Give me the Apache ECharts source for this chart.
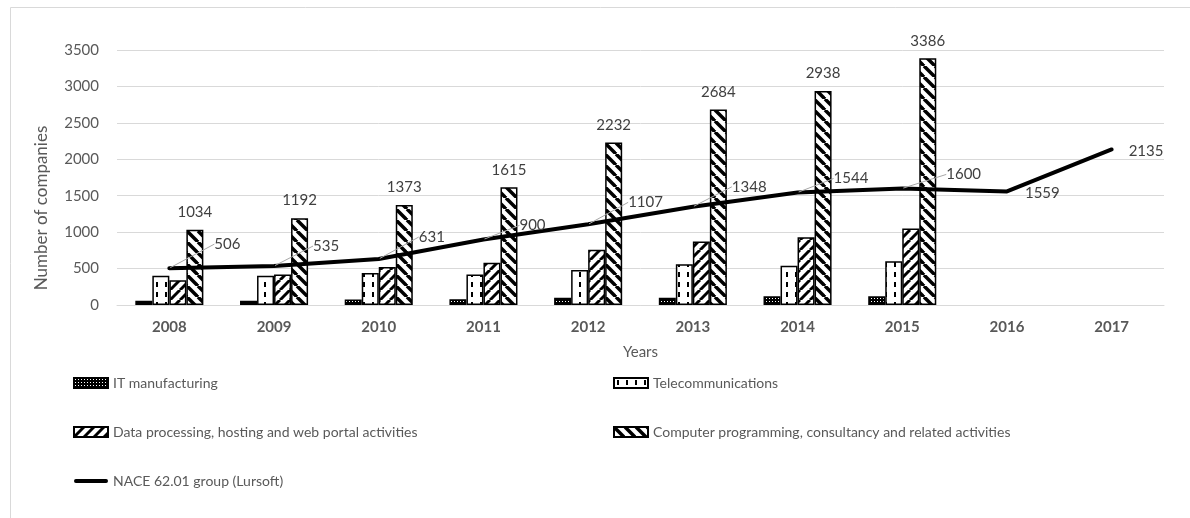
<!DOCTYPE html>
<html>
<head>
<meta charset="utf-8">
<title>Number of companies by year</title>
<script src="https://cdn.jsdelivr.net/npm/echarts@6/dist/echarts.min.js"></script>
<style>
  html, body { margin: 0; padding: 0; background: #fff; }
  #chart { width: 1190px; height: 518px; }
</style>
</head>
<body>
<div id="chart"></div>
<script>
// values
const years = ["2008", "2009", "2010", "2011", "2012", "2013", "2014", "2015", "2016", "2017"];
const itManufacturing = [60, 60, 75, 80, 100, 100, 120, 120, null, null];
const telecommunications = [400, 400, 440, 420, 480, 560, 540, 600, null, null];
const dataProcessing = [340, 420, 520, 580, 760, 870, 930, 1050, null, null];
const computerProgramming = [1034, 1192, 1373, 1615, 2232, 2684, 2938, 3386, null, null];
const naceGroup = [506, 535, 631, 900, 1107, 1348, 1544, 1600, 1559, 2135];

// where the line labels were dragged to (dx, dy from the default spot)
const lineLabelShift = [
  [39, -24], [33, -20], [34, -22], [30, -14], [34, -22],
  [33, -20], [30, -14], [38, -14], [12, 2], [11, 2],
];

const FONT = "Lato";

function makePattern(w, h, draw) {
  const c = document.createElement("canvas");
  c.width = w;
  c.height = h;
  const ctx = c.getContext("2d");
  draw(ctx, w, h);
  return { image: c, repeat: "repeat" };
}

// dark grid with white dots
const dotPattern = makePattern(3, 3, (ctx, w, h) => {
  ctx.fillStyle = "#000";
  ctx.fillRect(0, 0, w, h);
  ctx.fillStyle = "#fff";
  ctx.fillRect(1, 1, 1, 1);
});

// white with vertical dashes
const dashPattern = makePattern(9, 10, (ctx, w, h) => {
  ctx.fillStyle = "#fff";
  ctx.fillRect(0, 0, w, h);
  ctx.fillStyle = "#000";
  ctx.fillRect(3, 2, 2, 5);
});

// "/" stripes
const upStripe = makePattern(10, 10, (ctx, w, h) => {
  ctx.fillStyle = "#fff";
  ctx.fillRect(0, 0, w, h);
  ctx.strokeStyle = "#000";
  ctx.lineWidth = 3;
  for (let k = -1; k <= 1; k++) {
    ctx.beginPath();
    ctx.moveTo(k * w, h);
    ctx.lineTo(k * w + w, 0);
    ctx.stroke();
  }
});

// "\" stripes
const downStripe = makePattern(11, 11, (ctx, w, h) => {
  ctx.fillStyle = "#fff";
  ctx.fillRect(0, 0, w, h);
  ctx.strokeStyle = "#000";
  ctx.lineWidth = 3.5;
  for (let k = -1; k <= 1; k++) {
    ctx.beginPath();
    ctx.moveTo(k * w, 0);
    ctx.lineTo(k * w + w, h);
    ctx.stroke();
  }
});

const chart = echarts.init(document.getElementById("chart"));

function barSeries(name, values, pattern) {
  return {
    name: name,
    type: "bar",
    data: values,
    barGap: "0%",
    barCategoryGap: "35%",
    itemStyle: {
      color: pattern,
      borderColor: "#000",
      borderWidth: 1.5,
    },
  };
}

const legendText = { color: "#595959", fontSize: 14, fontFamily: FONT };
// thick line with round ends for the line series in the legend
const lineIcon = "path://M2,0 L34,0 A2,2 0 0 1 34,4 L2,4 A2,2 0 0 1 2,0 Z";

const option = {
  animation: false,
  textStyle: { fontFamily: FONT },
  grid: {
    left: 117,
    right: 26,
    top: 50,
    bottom: 213,
  },
  xAxis: {
    type: "category",
    data: years,
    axisLine: { show: true, lineStyle: { color: "#d9d9d9", width: 1 } },
    axisTick: { show: false },
    axisLabel: {
      color: "#595959",
      fontWeight: "bold",
      fontSize: 15,
      fontFamily: FONT,
      margin: 15,
    },
    name: "Years",
    nameLocation: "middle",
    nameGap: 40,
    nameTextStyle: { color: "#595959", fontSize: 15, fontFamily: FONT },
  },
  yAxis: {
    type: "value",
    min: 0,
    max: 3500,
    interval: 500,
    axisLine: { show: false },
    axisTick: { show: false },
    axisLabel: {
      color: "#595959",
      fontSize: 15,
      fontFamily: FONT,
      margin: 18,
      formatter: (v) => String(v),
    },
    splitLine: { lineStyle: { color: "#d9d9d9", width: 1 } },
  },
  legend: [
    {
      left: 73,
      top: 376,
      padding: 0,
      orient: "vertical",
      icon: "rect",
      itemWidth: 34,
      itemHeight: 10,
      itemGap: 35,
      textStyle: legendText,
      data: [
        "IT manufacturing",
        "Data processing, hosting and web portal activities",
        { name: "NACE 62.01 group (Lursoft)", icon: lineIcon },
      ],
    },
    {
      left: 613,
      top: 376,
      padding: 0,
      orient: "vertical",
      icon: "rect",
      itemWidth: 34,
      itemHeight: 10,
      itemGap: 35,
      textStyle: legendText,
      data: ["Telecommunications", "Computer programming, consultancy and related activities"],
    },
  ],
  graphic: [
    {
      type: "rect",
      silent: true,
      shape: { x: 10.5, y: 7.5, width: 1300, height: 700 },
      style: { fill: "none", stroke: "#d9d9d9", lineWidth: 1 },
    },
    {
      type: "text",
      x: 42,
      y: 208,
      rotation: Math.PI / 2,
      style: {
        text: "Number of companies",
        fill: "#595959",
        fontSize: 17,
        fontFamily: FONT,
        textAlign: "center",
        textVerticalAlign: "middle",
      },
    },
  ],
  series: [
    barSeries("IT manufacturing", itManufacturing, dotPattern),
    barSeries("Telecommunications", telecommunications, dashPattern),
    barSeries("Data processing, hosting and web portal activities", dataProcessing, upStripe),
    Object.assign(barSeries("Computer programming, consultancy and related activities", computerProgramming, downStripe), {
      label: {
        show: true,
        position: "top",
        distance: 10,
        color: "#404040",
        fontSize: 15,
        fontFamily: FONT,
      },
    }),
    {
      name: "NACE 62.01 group (Lursoft)",
      type: "line",
      z: 5,
      data: naceGroup.map((v, i) => (i >= 8 ? { value: v, labelLine: { show: false } } : v)),
      symbol: "circle",
      symbolSize: 2,
      itemStyle: { color: "#000" },
      lineStyle: { color: "#000", width: 4, cap: "round" },
      label: {
        show: true,
        position: "right",
        distance: 5,
        color: "#404040",
        fontSize: 15,
        fontFamily: FONT,
      },
      labelLine: {
        show: true,
        lineStyle: { color: "#a6a6a6", width: 1 },
      },
      labelLayout: (params) => {
        const s = lineLabelShift[params.dataIndex];
        return { dx: s[0], dy: s[1] };
      },
    },
  ],
};

option && chart.setOption(option);
</script>
</body>
</html>
